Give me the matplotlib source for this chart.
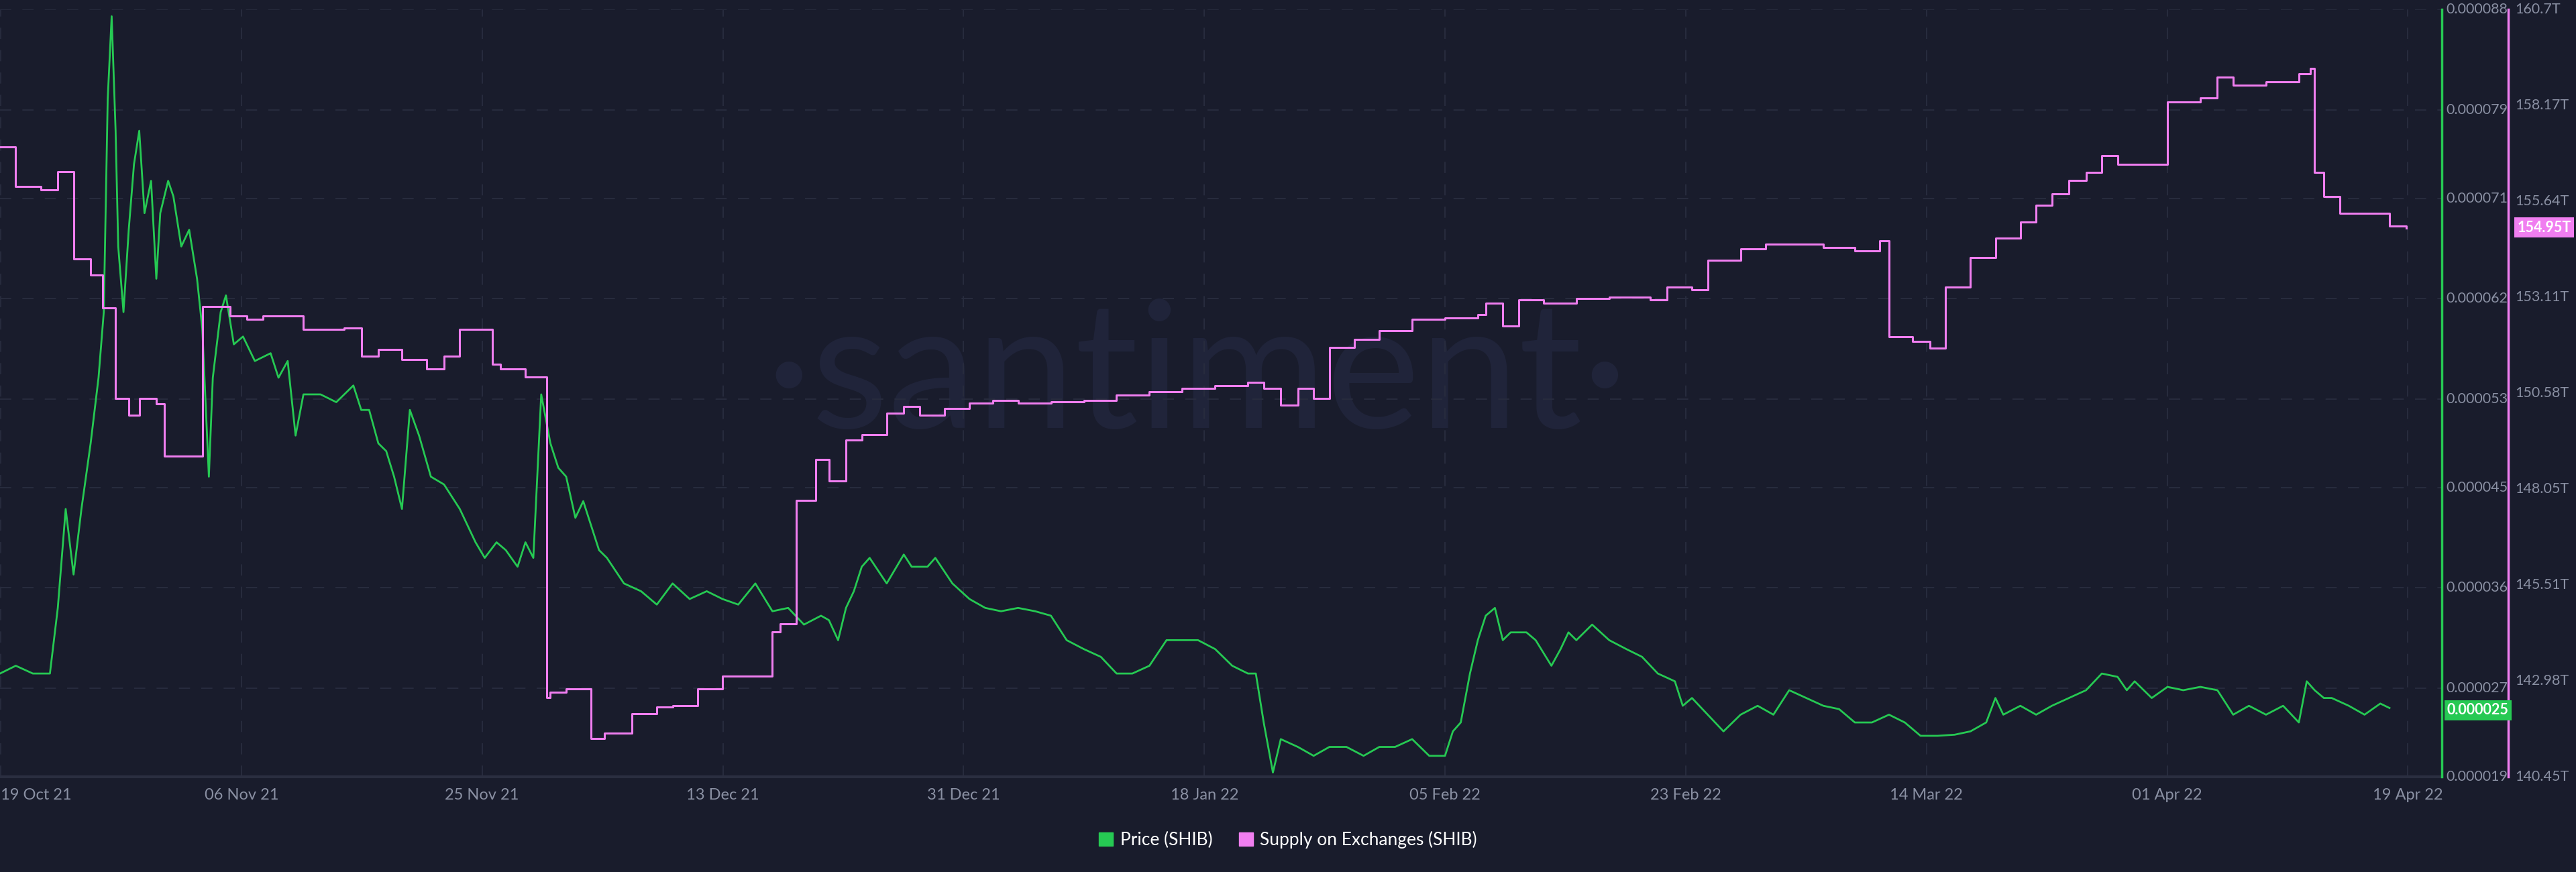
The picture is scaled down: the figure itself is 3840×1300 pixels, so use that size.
import matplotlib
matplotlib.use("Agg")
import matplotlib.pyplot as plt
import datetime as dt
from matplotlib.patches import Patch

start = dt.datetime(2021, 10, 16, 12)

# Price (SHIB), days since start, value in micro-USD
price_days = [0,1.2,2.5,3.8,4.4,5,5.6,6.2,6.9,7.5,7.9,8.2,8.5,8.8,9,9.4,9.8,10.2,10.6,11,11.5,11.9,12.2,12.8,13.2,13.8,14.4,15,15.4,15.9,16.2,16.8,17.2,17.8,18.5,19.4,20.6,21.2,21.9,22.5,23.1,24.4,25.6,26.9,27.5,28.1,28.8,29.4,30,30.6,31.2,31.9,32.8,33.8,35,36.2,36.9,37.8,38.5,39.4,40,40.6,41.2,41.9,42.5,43.1,43.8,44.4,45,45.6,46.2,47.5,48.8,50,51.2,52.5,53.8,55,56.2,57.5,58.8,60,61.2,62.5,63.1,63.8,64.4,65,65.6,66.2,67.5,68.8,69.4,70.6,71.2,72.5,73.8,75,76.2,77.5,78.8,80,81.2,82.5,83.8,85,86.2,87.5,88.8,90,91.2,92.5,93.8,95,95.6,96.2,96.9,97.5,98.8,100,101.2,102.5,103.8,105,106.2,107.5,108.8,110,110.6,111.2,111.9,112.5,113.1,113.8,114.4,115,116.2,116.9,118.1,118.8,119.4,120,121.2,122.5,123.8,125,126.2,127.5,128.1,128.8,130,131.2,132.5,133.8,135,136.2,137.5,138.8,140,141.2,142.5,143.8,145,146.2,147.5,148.8,150,151.2,151.9,152.5,153.8,155,156.2,157.5,158.8,160,161.2,161.9,162.5,163.8,165,166.2,167.5,168.8,170,171.2,172.5,173.8,175,175.6,176.2,176.9,177.5,178.8,180,181.2,181.9,182.5,183.2]
price_vals = [28.3,29.0,28.3,28.3,34.2,43.1,37.2,43.1,49.0,54.9,60.8,80.0,87.4,77.1,66.7,60.8,68.2,74.1,77.1,69.7,72.6,63.8,69.7,72.6,71.2,66.7,68.2,63.8,59.3,46.0,54.9,60.8,62.3,57.9,58.6,56.4,57.1,54.9,56.4,49.7,53.4,53.4,52.7,54.2,52.0,52.0,49.0,48.3,46.0,43.1,52.0,49.7,46.0,45.3,43.1,40.1,38.7,40.1,39.4,37.9,40.1,38.7,53.4,49.0,46.8,46.0,42.3,43.8,41.6,39.4,38.7,36.4,35.7,34.5,36.4,35.0,35.7,35.0,34.5,36.4,33.9,34.2,32.7,33.5,33.1,31.3,34.2,35.7,37.9,38.7,36.4,39.0,37.9,37.9,38.7,36.4,35.0,34.2,33.9,34.2,33.9,33.5,31.3,30.5,29.8,28.3,28.3,29.0,31.3,31.3,31.3,30.5,29.0,28.3,28.3,23.9,19.4,22.4,21.7,20.9,21.7,21.7,20.9,21.7,21.7,22.4,20.9,20.9,23.1,23.9,28.3,31.3,33.5,34.2,31.3,32.0,32.0,31.3,29.0,30.5,32.0,31.3,32.7,31.3,30.5,29.8,28.3,27.6,25.4,26.1,24.6,23.1,24.6,25.4,24.6,26.8,26.1,25.4,25.1,23.9,23.9,24.6,23.9,22.7,22.7,22.8,23.1,23.9,26.1,24.6,25.4,24.6,25.4,26.1,26.8,28.3,28.0,26.8,27.6,26.1,27.1,26.8,27.1,26.8,24.6,25.4,24.6,25.4,23.9,27.6,26.8,26.1,26.1,25.4,24.6,25.6,25.2]

# Supply on Exchanges (SHIB), days since start, value in trillions
supply_days = [0,1.2,3.1,4.4,5.6,6.9,7.8,8.8,9.8,10.6,11.9,12.5,14.4,15.4,17.5,18.8,20,21.9,23.1,25,26.2,27.5,28.8,30.6,32.5,33.8,35,35.9,37.5,38.1,40,41.6,41.9,43.1,45,46,48.1,50,51.2,53.1,55,56.2,58.8,59.4,60.6,62.1,63.1,64.4,65.6,67.5,68.8,70,71.9,73.8,75.6,77.5,80,82.5,85,87.5,90,92.5,95,96.2,97.5,98.8,100,101.2,103.1,105,107.5,110,112.5,113.1,114.4,115.6,117.5,120,122.5,125.6,126.9,128.8,130,132.5,134.4,136.2,138.8,141.2,143.1,143.8,145.6,146.9,148.1,150,151.9,153.8,155,156.2,157.5,158.8,160,161.2,165,167.5,168.8,170,172.5,175,175.9,176.2,176.9,178.1,181.9,183.2]
supply_vals = [157.07,156.03,155.94,156.42,154.12,153.69,152.82,150.43,150.00,150.43,150.30,148.91,148.91,152.87,152.61,152.52,152.61,152.61,152.26,152.26,152.30,151.56,151.73,151.47,151.21,151.56,152.26,152.26,151.34,151.21,151.00,142.55,142.68,142.77,141.47,141.60,142.12,142.29,142.33,142.77,143.11,143.11,144.28,144.50,147.75,148.83,148.27,149.35,149.49,150.05,150.22,150.00,150.18,150.31,150.39,150.31,150.35,150.39,150.52,150.61,150.70,150.78,150.87,150.70,150.26,150.70,150.44,151.78,152.00,152.22,152.52,152.57,152.65,152.95,152.35,153.04,152.95,153.08,153.12,153.04,153.38,153.30,154.08,154.38,154.51,154.51,154.42,154.34,154.59,152.07,151.95,151.77,153.37,154.15,154.67,155.10,155.54,155.84,156.19,156.41,156.84,156.62,158.27,158.36,158.92,158.71,158.79,159.00,159.14,156.41,155.76,155.32,154.98,154.93]

price_ticks = [0.000019,0.000027,0.000036,0.000045,0.000053,0.000062,0.000071,0.000079,0.000088]
supply_ticks = [140.45,142.98,145.51,148.05,150.58,153.11,155.64,158.17,160.7]
supply_tick_labels = ["140.45T","142.98T","145.51T","148.05T","150.58T","153.11T","155.64T","158.17T","160.7T"]
date_labels = ["19 Oct 21","06 Nov 21","25 Nov 21","13 Dec 21","31 Dec 21","18 Jan 22","05 Feb 22","23 Feb 22","14 Mar 22","01 Apr 22","19 Apr 22"]

BG = "#191c2c"
GREEN = "#26c953"
PINK = "#f07ef0"
TXT = "#8a90a3"

n = min(len(price_days), len(price_vals))
pd_ = [start + dt.timedelta(days=d) for d in price_days[:n]]
pv = [v * 1e-6 for v in price_vals[:n]]
sd_ = [start + dt.timedelta(days=d) for d in supply_days]

L, B, W, H = 0.0, 0.109, 0.948, 0.880
fig = plt.figure(figsize=(38.4, 13), dpi=100, facecolor=BG)
ax = fig.add_axes([L, B, W, H])
ax.set_facecolor(BG)
ax2 = ax.twinx()

ax.plot(pd_, pv, color=GREEN, lw=2.0, zorder=3)
ax2.step(sd_, supply_vals, where="post", color=PINK, lw=2.2, zorder=2)

ax.set_ylim(price_ticks[0], price_ticks[-1])
ax2.set_ylim(supply_ticks[0], supply_ticks[-1])
ax.set_xlim(start, start + dt.timedelta(days=185.9))

ax.set_yticks(price_ticks)
ax.set_yticklabels([])
ax2.set_yticks(supply_ticks)
ax2.set_yticklabels([])
ax.tick_params(axis="y", length=0)
ax2.tick_params(axis="y", length=0)
ax.grid(True, axis="both", color="#272b3d", lw=1.5, ls=(0, (8, 8)))
# evenly spaced date ticks (every ~18.3 days)
ax.set_xticks([start + dt.timedelta(days=0.05 + 18.325 * k) for k in range(len(date_labels))])
labels = ax.set_xticklabels(date_labels, color=TXT, fontsize=17, fontfamily="Lato")
labels[0].set_horizontalalignment("left")
ax.tick_params(axis="x", length=0, pad=12)
for s in ["top", "left"]:
    ax.spines[s].set_visible(False)
    ax2.spines[s].set_visible(False)
ax.spines["bottom"].set_color("#2a2e40")
ax.spines["bottom"].set_linewidth(3)
ax2.spines["bottom"].set_visible(False)
ax2.spines["right"].set_color(GREEN)
ax2.spines["right"].set_linewidth(2.5)

ax.text(0.49, 0.52, "·santiment·", transform=ax.transAxes, ha="center", va="center",
        fontsize=190, color="#20243a", fontfamily="Lato", zorder=0)

for v in price_ticks:
    y = (v - price_ticks[0]) / (price_ticks[-1] - price_ticks[0])
    fig.text(0.9495, B + H * y, f"{v:.6f}", color=TXT, fontsize=15.5, va="center", ha="left", fontfamily="Lato")
for v, lbl in zip(supply_ticks, supply_tick_labels):
    y = (v - supply_ticks[0]) / (supply_ticks[-1] - supply_ticks[0])
    fig.text(0.9765, B + H * y, lbl, color=TXT, fontsize=15.5, va="center", ha="left", fontfamily="Lato")
fig.add_artist(plt.Line2D([0.9738, 0.9738], [B, B + H], color=PINK, lw=2.5, transform=fig.transFigure))

yp = (0.000025 - price_ticks[0]) / (price_ticks[-1] - price_ticks[0])
fig.text(0.9500, B + H * yp, "0.000025", color="white", fontsize=15.5, va="center",
         fontfamily="Lato", fontweight="bold", bbox=dict(boxstyle="square,pad=0.2", fc=GREEN, ec="none"))
ys = (154.95 - supply_ticks[0]) / (supply_ticks[-1] - supply_ticks[0])
fig.text(0.9772, B + H * ys, "154.95T", color="white", fontsize=15.5, va="center",
         fontfamily="Lato", fontweight="bold", bbox=dict(boxstyle="square,pad=0.2", fc=PINK, ec="none"))

h = [Patch(color=GREEN, label="Price (SHIB)"), Patch(color=PINK, label="Supply on Exchanges (SHIB)")]
fig.legend(handles=h, loc="center", bbox_to_anchor=(0.5, 0.037), ncol=2, frameon=False,
           labelcolor="white", handlelength=0.8, handleheight=0.8,
           handletextpad=0.4, columnspacing=1.5, prop={"family": "Lato", "size": 19})

fig.savefig("out.png", dpi=100, facecolor=BG)
